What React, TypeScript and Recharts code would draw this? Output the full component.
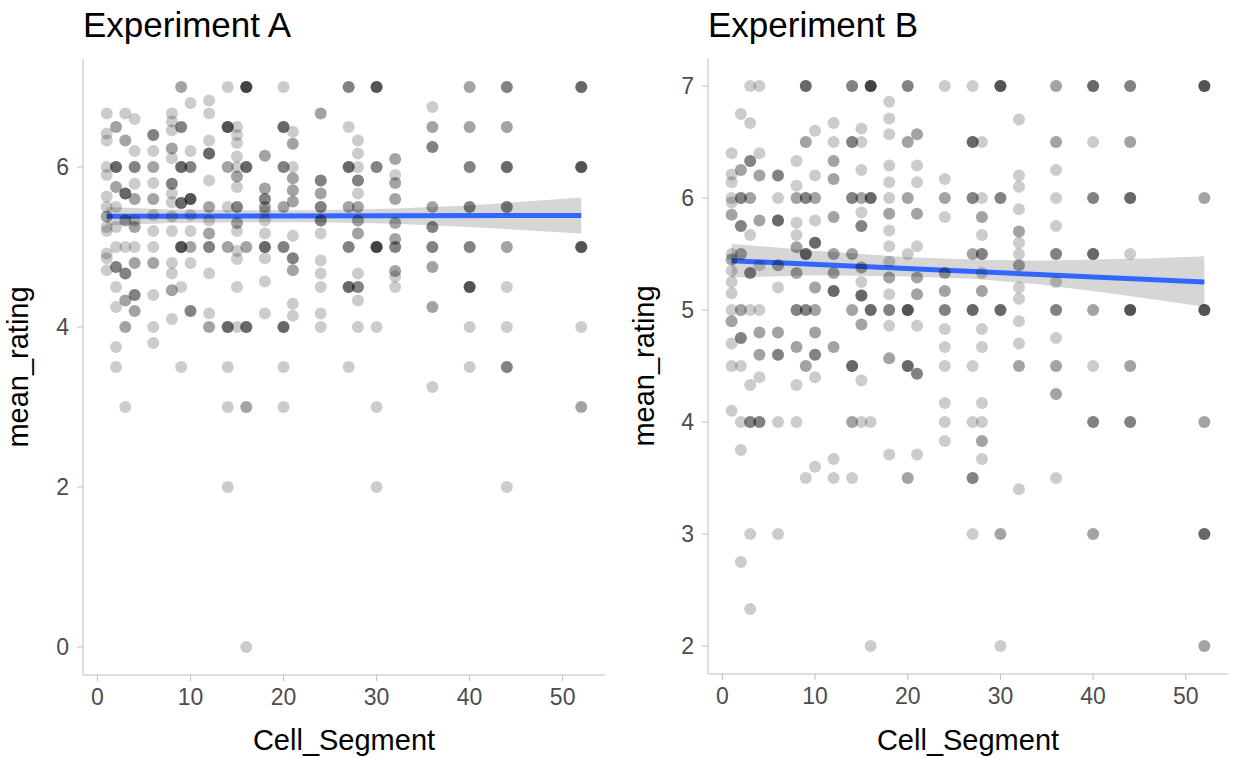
import React from "react";
import { ComposedChart, Scatter, Line, Area, XAxis, YAxis } from "recharts";

const FONT = '"Liberation Sans", Arial, Helvetica, sans-serif';
const AXIS_GREY = "#bebebe";

// Cell_Segment values that appear in both experiments
const segments = [1, 2, 3, 4, 6, 8, 9, 10, 12, 14, 15, 16, 18, 20, 21, 24, 27, 28, 30, 32, 36, 40, 44, 52];
const xTicks = [0, 10, 20, 30, 40, 50];

// [mean_rating, how many identical points] for each segment, Experiment A
const ratingsA: [number, number][][] = [
  [[6.67, 1], [6.42, 1], [6.33, 1], [6.0, 1], [5.9, 1], [5.63, 1], [5.5, 1], [5.38, 2], [5.25, 1], [5.2, 1], [4.92, 1], [4.86, 1], [4.71, 1]],
  [[6.5, 2], [6.0, 4], [5.75, 2], [5.5, 1], [5.25, 1], [5.0, 1], [4.75, 3], [4.5, 1], [4.25, 1], [3.75, 1], [3.5, 1]],
  [[6.67, 1], [6.33, 2], [5.67, 4], [5.33, 2], [5.0, 1], [4.67, 3], [4.33, 2], [4.0, 2], [3.0, 1]],
  [[6.6, 1], [6.2, 1], [6.0, 3], [5.79, 1], [5.6, 2], [5.33, 1], [5.25, 2], [5.0, 1], [4.8, 2], [4.4, 3], [4.2, 2]],
  [[6.4, 3], [6.2, 1], [6.0, 2], [5.8, 1], [5.6, 2], [5.4, 1], [5.2, 1], [5.0, 1], [4.8, 2], [4.4, 1], [4.0, 1], [3.8, 1]],
  [[6.67, 1], [6.57, 1], [6.46, 1], [6.23, 2], [6.11, 1], [5.79, 3], [5.67, 1], [5.56, 1], [5.38, 1], [5.2, 1], [4.8, 1], [4.67, 1], [4.46, 2], [4.1, 1]],
  [[7.0, 2], [6.5, 3], [6.0, 4], [5.55, 4], [5.0, 5], [4.5, 1], [3.5, 1]],
  [[6.8, 1], [6.2, 1], [6.0, 3], [5.6, 5], [5.4, 1], [5.2, 1], [5.0, 2], [4.8, 1], [4.2, 3]],
  [[6.83, 1], [6.67, 1], [6.33, 1], [6.17, 4], [5.83, 1], [5.5, 2], [5.33, 1], [5.17, 2], [5.0, 3], [4.67, 1], [4.17, 1], [4.0, 2]],
  [[7.0, 1], [6.5, 5], [6.0, 2], [5.5, 1], [5.0, 2], [4.0, 4], [3.5, 1], [3.0, 1], [2.0, 1]],
  [[6.5, 1], [6.4, 1], [6.3, 1], [6.13, 1], [6.0, 1], [5.88, 2], [5.75, 1], [5.5, 3], [5.3, 2], [5.2, 1], [4.95, 1], [4.85, 1], [4.5, 1], [4.0, 1]],
  [[7.0, 6], [6.0, 4], [5.0, 2], [4.0, 4], [3.0, 2], [0, 1]],
  [[6.14, 2], [5.73, 2], [5.6, 3], [5.5, 2], [5.45, 1], [5.33, 1], [5.17, 1], [5.0, 4], [4.86, 1], [4.57, 1], [4.17, 1]],
  [[7.0, 1], [6.5, 4], [6.0, 3], [5.5, 2], [5.0, 3], [4.0, 4], [3.5, 1], [3.0, 1]],
  [[6.44, 1], [6.29, 2], [6.0, 1], [5.86, 2], [5.71, 2], [5.57, 2], [5.14, 1], [4.86, 3], [4.71, 2], [4.29, 1], [4.14, 1]],
  [[6.67, 2], [5.83, 3], [5.67, 2], [5.5, 3], [5.33, 3], [5.17, 1], [4.83, 1], [4.67, 1], [4.5, 1], [4.17, 1], [4.0, 1]],
  [[7.0, 3], [6.5, 1], [6.0, 4], [5.5, 2], [5.0, 3], [4.5, 4], [3.5, 1]],
  [[6.33, 1], [6.17, 1], [6.0, 1], [5.83, 3], [5.67, 1], [5.5, 2], [5.33, 2], [5.17, 2], [4.67, 1], [4.5, 3], [4.33, 1], [4.0, 1]],
  [[7.0, 5], [6.0, 3], [5.0, 6], [4.0, 1], [3.0, 1], [2.0, 1]],
  [[6.1, 2], [5.9, 1], [5.8, 2], [5.6, 2], [5.3, 2], [5.1, 2], [5.0, 3], [4.7, 2], [4.63, 1], [4.5, 1]],
  [[6.75, 1], [6.5, 2], [6.25, 3], [5.5, 2], [5.25, 3], [5.0, 3], [4.75, 2], [4.25, 2], [3.25, 1]],
  [[7.0, 2], [6.5, 2], [6.0, 3], [5.5, 3], [5.0, 3], [4.5, 5], [4.0, 1], [3.5, 1]],
  [[7.0, 3], [6.5, 2], [6.0, 4], [5.5, 3], [5.0, 2], [4.5, 1], [4.0, 1], [3.5, 3], [2.0, 1]],
  [[7.0, 4], [6.0, 5], [5.0, 5], [4.0, 1], [3.0, 2]],
];

// same layout, Experiment B
const ratingsB: [number, number][][] = [
  [[6.4, 1], [6.21, 1], [6.14, 1], [6.0, 1], [5.96, 1], [5.85, 2], [5.5, 1], [5.45, 2], [5.35, 1], [5.25, 1], [5.15, 1], [5.0, 1], [4.9, 2], [4.7, 1], [4.5, 1], [4.1, 1]],
  [[6.75, 1], [6.25, 2], [6.0, 3], [5.75, 3], [5.5, 2], [5.0, 2], [4.75, 3], [4.5, 1], [4.0, 1], [3.75, 1], [2.75, 1]],
  [[7.0, 1], [6.67, 1], [6.33, 3], [6.0, 2], [5.67, 1], [5.33, 3], [5.0, 1], [4.33, 1], [4.0, 3], [3.0, 1], [2.33, 1]],
  [[7.0, 1], [6.4, 1], [6.2, 2], [5.8, 2], [5.4, 1], [5.0, 1], [4.8, 2], [4.6, 2], [4.4, 1], [4.0, 3]],
  [[6.2, 3], [6.0, 1], [5.8, 4], [5.4, 2], [5.2, 1], [4.8, 2], [4.6, 3], [4.0, 1], [3.0, 1]],
  [[6.33, 1], [6.11, 1], [6.0, 2], [5.78, 1], [5.67, 1], [5.56, 2], [5.33, 2], [5.0, 3], [4.67, 2], [4.33, 1], [4.0, 1]],
  [[7.0, 4], [6.5, 2], [6.0, 3], [5.5, 4], [5.0, 3], [4.5, 2], [3.5, 1]],
  [[6.6, 1], [6.2, 1], [6.0, 2], [5.8, 1], [5.6, 4], [5.2, 2], [5.0, 2], [4.8, 2], [4.6, 3], [4.4, 1], [3.6, 1]],
  [[6.67, 1], [6.5, 1], [6.33, 2], [6.17, 2], [5.83, 2], [5.5, 2], [5.33, 2], [5.17, 4], [4.67, 2], [3.67, 1], [3.5, 1]],
  [[7.0, 3], [6.5, 3], [6.0, 3], [5.5, 2], [5.0, 2], [4.5, 4], [4.0, 2], [3.5, 1]],
  [[6.62, 1], [6.5, 1], [6.25, 1], [6.0, 2], [5.87, 1], [5.75, 3], [5.38, 2], [5.25, 1], [5.13, 4], [4.87, 2], [4.37, 1], [4.0, 1]],
  [[7.0, 6], [6.0, 4], [5.0, 4], [4.0, 1], [2.0, 1]],
  [[6.86, 1], [6.71, 1], [6.57, 1], [6.29, 1], [6.14, 1], [6.0, 1], [5.86, 2], [5.71, 1], [5.57, 1], [5.43, 1], [5.29, 2], [5.14, 1], [5.0, 3], [4.86, 1], [4.57, 2], [3.71, 1]],
  [[7.0, 3], [6.5, 2], [6.0, 2], [5.5, 1], [5.0, 5], [4.5, 4], [3.5, 2]],
  [[6.57, 2], [6.29, 1], [6.14, 1], [5.86, 2], [5.57, 1], [5.29, 2], [5.14, 2], [4.86, 1], [4.43, 3], [3.71, 1]],
  [[7.0, 1], [6.17, 1], [6.0, 2], [5.83, 1], [5.33, 2], [5.17, 2], [5.0, 3], [4.83, 1], [4.67, 1], [4.5, 1], [4.17, 1], [4.0, 1], [3.83, 1]],
  [[7.0, 1], [6.5, 4], [6.0, 3], [5.5, 2], [5.0, 4], [4.5, 1], [4.0, 1], [3.5, 3], [3.0, 1]],
  [[6.5, 1], [6.0, 1], [5.83, 2], [5.67, 1], [5.5, 3], [5.33, 1], [5.17, 2], [4.83, 1], [4.67, 1], [4.17, 1], [4.0, 1], [3.83, 2], [3.67, 1]],
  [[7.0, 5], [6.0, 3], [5.0, 4], [3.0, 2], [2.0, 1]],
  [[6.7, 1], [6.2, 1], [6.1, 1], [5.9, 1], [5.7, 2], [5.6, 1], [5.5, 1], [5.4, 2], [5.2, 1], [5.1, 1], [4.9, 1], [4.7, 1], [4.5, 2], [3.4, 1]],
  [[7.0, 2], [6.5, 2], [6.25, 1], [6.0, 1], [5.75, 1], [5.5, 3], [5.25, 1], [5.0, 3], [4.75, 1], [4.5, 2], [4.25, 2], [3.5, 1]],
  [[7.0, 4], [6.5, 1], [6.0, 3], [5.5, 4], [5.0, 2], [4.5, 1], [4.0, 3], [3.0, 2]],
  [[7.0, 3], [6.5, 2], [6.0, 4], [5.5, 1], [5.0, 5], [4.5, 2], [4.0, 3]],
  [[7.0, 5], [6.0, 2], [5.0, 5], [4.0, 2], [3.0, 4], [2.0, 2]],
];

// linear fit and its confidence band
const fitXA = [1, 52];
const fitYA = [5.385, 5.395];
const bandXA = [1, 8, 16, 24, 32, 40, 46, 52];
const bandLowA = [5.27, 5.3, 5.31, 5.31, 5.29, 5.25, 5.21, 5.17];
const bandHighA = [5.5, 5.47, 5.46, 5.46, 5.48, 5.52, 5.57, 5.62];

const fitXB = [1, 52];
const fitYB = [5.44, 5.25];
const bandXB = [1, 10, 20, 27, 34, 40, 46, 52];
const bandLowB = [5.29, 5.31, 5.3, 5.28, 5.23, 5.17, 5.1, 5.03];
const bandHighB = [5.59, 5.53, 5.47, 5.45, 5.44, 5.45, 5.46, 5.48];

const yTicksA = [0, 2, 4, 6];
const yTicksB = [2, 3, 4, 5, 6, 7];

const toPoints = (ratings: [number, number][][]) =>
  segments.flatMap((x, i) =>
    ratings[i].flatMap(([y, n]) => Array.from({ length: n }, () => ({ x, y })))
  );

const toBand = (xs: number[], lo: number[], hi: number[]) =>
  xs.map((x, i) => ({ x, band: [lo[i], hi[i]] }));

const toFit = (xs: number[], ys: number[]) => xs.map((x, i) => ({ x, fit: ys[i] }));

const dot = (props: any) => (
  <circle cx={props.cx} cy={props.cy} r={6} fill="#000000" fillOpacity={0.2} />
);

interface PanelProps {
  title: string;
  left: number;
  width: number;
  yAxisWidth: number;
  top: number;
  right: number;
  xAxisHeight: number;
  yDomain: [number, number];
  yTicks: number[];
  points: { x: number; y: number }[];
  band: { x: number; band: number[] }[];
  fit: { x: number; fit: number }[];
  yLabelX: number;
}

const Panel: React.FC<PanelProps> = (p) => {
  const height = 758;
  const midY = (p.top + (height - p.xAxisHeight)) / 2;
  return (
    <div style={{ position: "absolute", left: p.left, top: 0, width: p.width, height }}>
      <div
        style={{
          position: "absolute",
          left: p.yAxisWidth,
          top: 7,
          fontFamily: FONT,
          fontSize: 35,
          lineHeight: "35px",
          color: "#000",
          whiteSpace: "nowrap",
        }}
      >
        {p.title}
      </div>
      <ComposedChart
        width={p.width}
        height={height}
        margin={{ top: p.top, right: p.right, left: 0, bottom: 0 }}
      >
        <XAxis
          dataKey="x"
          type="number"
          domain={[-1.55, 54.55]}
          ticks={xTicks}
          allowDataOverflow
          height={p.xAxisHeight}
          tickSize={6}
          tickMargin={8}
          axisLine={{ stroke: AXIS_GREY }}
          tickLine={{ stroke: AXIS_GREY }}
          tick={{ fill: "#4d4d4d", fontSize: 23, fontFamily: FONT }}
          label={{
            value: "Cell_Segment",
            position: "insideBottom",
            offset: 8,
            fill: "#000",
            fontSize: 29,
            fontFamily: FONT,
          }}
        />
        <YAxis
          type="number"
          domain={p.yDomain}
          ticks={p.yTicks}
          allowDataOverflow
          width={p.yAxisWidth}
          tickSize={6}
          tickMargin={8}
          axisLine={{ stroke: AXIS_GREY }}
          tickLine={{ stroke: AXIS_GREY }}
          tick={{ fill: "#4d4d4d", fontSize: 23, fontFamily: FONT }}
          label={{
            content: () => (
              <text
                x={p.yLabelX}
                y={midY}
                transform={`rotate(-90 ${p.yLabelX} ${midY})`}
                textAnchor="middle"
                fill="#000"
                fontSize={29}
                fontFamily={FONT}
              >
                mean_rating
              </text>
            ),
          }}
        />
        <Scatter data={p.points} dataKey="y" shape={dot} isAnimationActive={false} />
        <Area
          data={p.band}
          dataKey="band"
          type="linear"
          stroke="none"
          fill="#999999"
          fillOpacity={0.4}
          isAnimationActive={false}
        />
        <Line
          data={p.fit}
          dataKey="fit"
          type="linear"
          stroke="#3366FF"
          strokeWidth={5}
          dot={false}
          activeDot={false}
          isAnimationActive={false}
        />
      </ComposedChart>
    </div>
  );
};

export default function App() {
  return (
    <div style={{ position: "absolute", left: 0, top: 0, width: 1233, height: 758, background: "#fff" }}>
      <Panel
        title="Experiment A"
        left={0}
        width={615}
        yAxisWidth={83}
        top={59}
        right={10}
        xAxisHeight={83}
        yDomain={[-0.35, 7.35]}
        yTicks={yTicksA}
        points={toPoints(ratingsA)}
        band={toBand(bandXA, bandLowA, bandHighA)}
        fit={toFit(fitXA, fitYA)}
        yLabelX={28}
      />
      <Panel
        title="Experiment B"
        left={620}
        width={613}
        yAxisWidth={88}
        top={58}
        right={5}
        xAxisHeight={84}
        yDomain={[1.75, 7.25]}
        yTicks={yTicksB}
        points={toPoints(ratingsB)}
        band={toBand(bandXB, bandLowB, bandHighB)}
        fit={toFit(fitXB, fitYB)}
        yLabelX={34}
      />
    </div>
  );
}
